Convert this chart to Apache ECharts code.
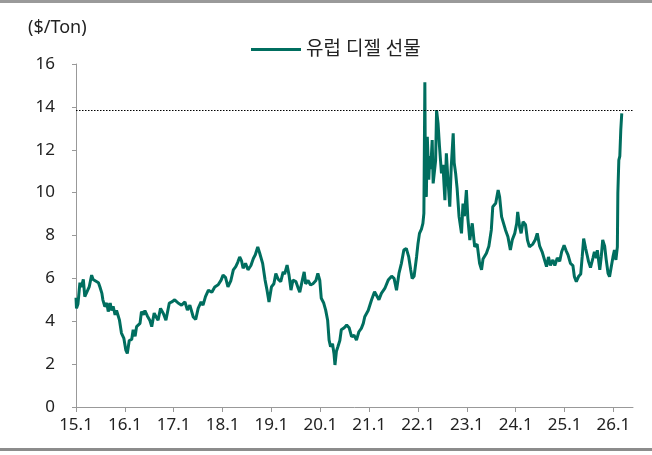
<!DOCTYPE html>
<html>
<head>
<meta charset="utf-8">
<script src="https://cdn.jsdelivr.net/npm/echarts@6/dist/echarts.min.js"></script>
<style>
  html, body { margin: 0; padding: 0; background: #fff; }
  #chart { width: 652px; height: 455px; }
</style>
</head>
<body>
<div id="chart"></div>
<script>
// years since Jan 2015 (15.1)
var t = [
  0.00, 0.01, 0.04, 0.08, 0.11, 0.15, 0.18, 0.22, 0.27, 0.32, 0.35, 0.39, 0.46, 0.49, 0.53, 0.55,
  0.59, 0.63, 0.66, 0.70, 0.73, 0.76, 0.80, 0.83, 0.89, 0.93, 0.98, 1.02, 1.05, 1.09, 1.14, 1.17,
  1.21, 1.24, 1.27, 1.31, 1.34, 1.38, 1.41, 1.46, 1.51, 1.55, 1.60, 1.64, 1.68, 1.73, 1.79, 1.84,
  1.91, 1.96, 2.02, 2.09, 2.16, 2.23, 2.28, 2.33, 2.40, 2.45, 2.50, 2.56, 2.60, 2.65, 2.71, 2.78,
  2.84, 2.91, 2.97, 3.01, 3.06, 3.11, 3.17, 3.22, 3.27, 3.31, 3.35, 3.39, 3.42, 3.47, 3.52, 3.58,
  3.63, 3.67, 3.72, 3.76, 3.82, 3.87, 3.91, 3.95, 4.00, 4.05, 4.09, 4.14, 4.19, 4.24, 4.27, 4.32,
  4.36, 4.40, 4.44, 4.50, 4.55, 4.58, 4.64, 4.67, 4.70, 4.75, 4.80, 4.85, 4.91, 4.95, 4.99, 5.02,
  5.07, 5.11, 5.15, 5.18, 5.21, 5.25, 5.28, 5.30, 5.33, 5.36, 5.40, 5.43, 5.49, 5.54, 5.59, 5.64,
  5.69, 5.74, 5.79, 5.84, 5.88, 5.91, 5.98, 6.05, 6.11, 6.15, 6.20, 6.25, 6.32, 6.39, 6.46, 6.51,
  6.56, 6.61, 6.66, 6.71, 6.76, 6.81, 6.85, 6.88, 6.92, 6.97, 7.00, 7.03, 7.07, 7.10, 7.12, 7.14,
  7.15, 7.17, 7.19, 7.22, 7.24, 7.26, 7.29, 7.31, 7.33, 7.36, 7.38, 7.41, 7.44, 7.48, 7.51, 7.55,
  7.58, 7.61, 7.65, 7.68, 7.72, 7.74, 7.77, 7.80, 7.84, 7.89, 7.92, 7.95, 7.99, 8.02, 8.06, 8.11,
  8.16, 8.21, 8.26, 8.30, 8.33, 8.40, 8.45, 8.50, 8.53, 8.59, 8.64, 8.67, 8.71, 8.75, 8.79, 8.84,
  8.89, 8.93, 8.98, 9.02, 9.04, 9.08, 9.11, 9.15, 9.20, 9.24, 9.28, 9.35, 9.40, 9.44, 9.49, 9.54,
  9.58, 9.63, 9.67, 9.71, 9.76, 9.80, 9.85, 9.90, 9.94, 9.99, 10.03, 10.07, 10.12, 10.17, 10.20, 10.24,
  10.29, 10.33, 10.36, 10.39, 10.43, 10.46, 10.49, 10.53, 10.58, 10.61, 10.65, 10.67, 10.72, 10.75, 10.78, 10.82,
  10.85, 10.89, 10.92, 10.95, 10.99, 11.02, 11.05, 11.08, 11.09, 11.11, 11.13, 11.15, 11.17
]
var diesel = [
  5.1, 4.6, 4.8, 5.8, 5.6, 5.95, 5.15, 5.2, 5.6, 6.15, 5.95, 6.0, 5.8, 5.6, 5.3, 5.0,
  4.68, 4.85, 4.45, 4.85, 4.5, 4.7, 4.3, 4.5, 4.05, 3.45, 3.2, 2.65, 2.5, 3.1, 3.15, 3.6,
  3.3, 3.75, 3.7, 3.9, 4.45, 4.3, 4.5, 4.25, 4.05, 3.75, 4.38, 4.2, 4.05, 4.6, 4.35, 4.05,
  4.85, 4.9, 5.0, 4.85, 4.75, 4.9, 4.52, 4.75, 4.2, 4.08, 4.6, 4.9, 4.75, 5.15, 5.45, 5.35,
  5.6, 5.7, 5.92, 6.15, 6.05, 5.6, 5.9, 6.4, 6.55, 6.75, 7.0, 6.8, 6.47, 6.7, 6.4, 6.6,
  6.93, 7.1, 7.47, 7.17, 6.7, 5.92, 5.45, 4.9, 5.6, 5.75, 6.23, 5.95, 5.85, 6.3, 6.2, 6.62,
  6.15, 5.45, 5.92, 5.85, 5.53, 5.35, 6.0, 6.3, 5.75, 5.9, 5.69, 5.75, 5.9, 6.23, 5.9, 5.07,
  4.85, 4.52, 4.05, 3.12, 2.81, 2.95, 2.5, 1.96, 2.6, 2.81, 3.1, 3.6, 3.7, 3.82, 3.7, 3.28,
  3.35, 3.12, 3.51, 3.67, 3.9, 4.21, 4.5, 5.0, 5.38, 5.45, 5.0, 5.3, 5.53, 5.92, 6.1, 6.0,
  5.45, 6.23, 6.7, 7.32, 7.4, 7.0, 6.4, 6.0, 6.1, 7.0, 7.63, 8.1, 8.3, 8.57, 9.03, 15.15,
  11.0, 9.8, 12.6, 10.6, 11.7, 11.1, 12.45, 10.43, 10.5, 11.5, 13.85, 13.23, 12.14, 10.9, 11.3, 9.65,
  11.83, 10.7, 9.34, 11.2, 12.77, 11.4, 10.9, 10.2, 8.88, 8.1, 9.49, 8.9, 10.12, 8.8, 7.79, 8.57,
  7.47, 7.6, 6.7, 6.4, 6.9, 7.17, 7.5, 8.26, 9.34, 9.5, 10.12, 9.8, 8.88, 8.9, 8.26, 7.94,
  7.32, 7.8, 8.1, 8.57, 9.1, 8.4, 8.1, 8.64, 8.5, 7.79, 7.47, 7.6, 7.8, 8.1, 7.5, 7.24,
  7.3, 6.55, 7.0, 6.6, 6.86, 6.6, 6.95, 6.8, 7.24, 7.55, 7.3, 7.1, 6.7, 6.6, 6.08, 5.85,
  6.1, 6.2, 7.0, 7.86, 7.4, 7.1, 6.78, 6.5, 6.95, 7.24, 6.95, 7.32, 6.4, 7.0, 7.79, 7.5,
  6.9, 6.23, 6.08, 6.05, 7.0, 7.32, 6.86, 7.47, 9.97, 11.52, 11.7, 12.92, 13.7
]
var yearTicks = [0, 1, 2, 3, 4, 5, 6, 7, 8, 9, 10, 11]
var refLevel = 13.85

var font = "'Noto Sans', 'Noto Sans CJK KR', sans-serif"
var chart = echarts.init(document.getElementById('chart'))

chart.setOption({
  animation: false,
  textStyle: { fontFamily: font },
  graphic: [
    { type: 'rect', left: 0, top: 0, shape: { width: 652, height: 3 }, style: { fill: '#9a9a9a' } },
    { type: 'rect', left: 0, top: 448, shape: { width: 652, height: 3 }, style: { fill: '#8c8c8c' } },
    { type: 'text', left: 28, top: 19, style: { text: '($/Ton)', fill: '#222', font: '18px ' + font } }
  ],
  legend: {
    left: 246,
    top: 35,
    icon: 'rect',
    itemWidth: 50,
    itemHeight: 3,
    itemGap: 10,
    textStyle: { fontSize: 19, color: '#222', fontFamily: font },
    data: ['유럽 디젤 선물']
  },
  grid: { left: 76, right: 19, top: 64, bottom: 48, containLabel: false },
  xAxis: {
    type: 'value',
    min: 0,
    max: 11.4,
    axisLine: { show: true, lineStyle: { color: '#999', width: 1 } },
    axisTick: { show: true, length: 5, lineStyle: { color: '#999' }, customValues: yearTicks },
    axisLabel: {
      customValues: yearTicks,
      margin: 10,
      fontSize: 17,
      color: '#222',
      formatter: function (v) { return (15 + Math.round(v)) + '.1' }
    },
    splitLine: { show: false }
  },
  yAxis: {
    type: 'value',
    min: 0,
    max: 16,
    interval: 2,
    axisLine: { show: true, lineStyle: { color: '#999', width: 1 } },
    axisTick: { show: true, length: 4, lineStyle: { color: '#999' } },
    axisLabel: { fontSize: 17, color: '#222', margin: 21 },
    splitLine: { show: false }
  },
  series: [{
    name: '유럽 디젤 선물',
    type: 'line',
    showSymbol: false,
    symbol: 'none',
    color: '#006e5f',
    lineStyle: { width: 3, color: '#006e5f' },
    data: t.map(function (x, i) { return [x, diesel[i]] }),
    markLine: {
      silent: true,
      symbol: 'none',
      label: { show: false },
      lineStyle: { color: '#000', width: 1, type: [1.5, 1.5] },
      data: [{ yAxis: refLevel }]
    }
  }]
})
</script>
</body>
</html>
